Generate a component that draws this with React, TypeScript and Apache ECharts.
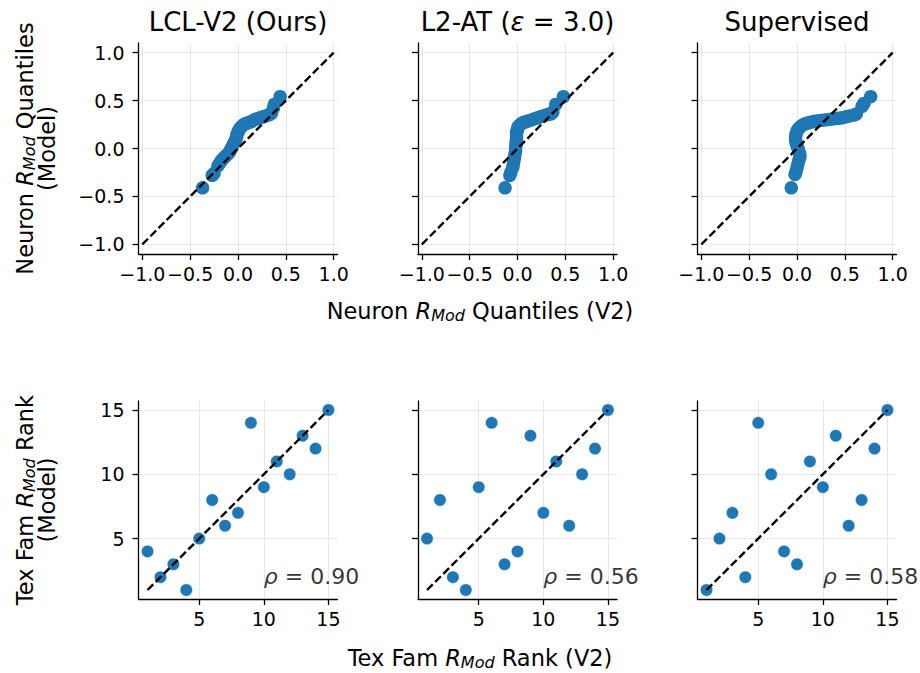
import React, { useEffect, useRef } from "react";
import * as echarts from "echarts";

// ---------- data ----------
const quantileTicks = [-1, -0.5, 0, 0.5, 1];
const rankTicks = [5, 10, 15];
const identityQuantile = [-1, 1];
const identityRank = [1, 15];

// top row: neuron R_Mod quantiles (V2 on x, model on y)
const lclV2Quantiles = [-0.37, -0.27, -0.25, -0.21, -0.19, -0.17, -0.15, -0.13, -0.11, -0.09, -0.08, -0.07, -0.06, -0.05, -0.04, -0.03, -0.02, -0.015, -0.01, 0.0, 0.01, 0.02, 0.04, 0.06, 0.08, 0.11, 0.14, 0.17, 0.2, 0.23, 0.26, 0.29, 0.32, 0.34, 0.35, 0.37, 0.38, 0.44];
const lclModelQuantiles = [-0.41, -0.28, -0.26, -0.18, -0.15, -0.12, -0.1, -0.08, -0.06, -0.04, -0.02, 0.0, 0.02, 0.04, 0.06, 0.08, 0.1, 0.12, 0.15, 0.17, 0.19, 0.21, 0.23, 0.25, 0.26, 0.27, 0.28, 0.3, 0.31, 0.32, 0.33, 0.34, 0.35, 0.36, 0.37, 0.42, 0.46, 0.54];

const l2atV2Quantiles = [-0.13, -0.08, -0.07, -0.05, -0.045, -0.04, -0.035, -0.03, -0.025, -0.02, -0.02, -0.015, -0.015, -0.01, -0.01, -0.01, -0.005, 0.0, 0.005, 0.01, 0.02, 0.04, 0.06, 0.09, 0.12, 0.15, 0.18, 0.21, 0.24, 0.27, 0.3, 0.33, 0.35, 0.37, 0.4, 0.48];
const l2atModelQuantiles = [-0.41, -0.28, -0.25, -0.2, -0.17, -0.14, -0.11, -0.08, -0.05, -0.02, 0.01, 0.04, 0.07, 0.1, 0.13, 0.16, 0.18, 0.2, 0.22, 0.23, 0.24, 0.26, 0.27, 0.28, 0.29, 0.3, 0.31, 0.32, 0.33, 0.34, 0.35, 0.36, 0.36, 0.38, 0.46, 0.54];

const supV2Quantiles = [-0.06, -0.02, -0.01, 0.0, 0.01, 0.02, 0.03, 0.03, 0.02, 0.01, 0.0, -0.01, -0.015, -0.015, -0.01, 0.0, 0.01, 0.03, 0.05, 0.08, 0.11, 0.15, 0.19, 0.23, 0.27, 0.31, 0.35, 0.39, 0.43, 0.47, 0.51, 0.55, 0.6, 0.62, 0.68, 0.7, 0.77];
const supModelQuantiles = [-0.41, -0.27, -0.24, -0.2, -0.16, -0.12, -0.09, -0.06, -0.03, 0.0, 0.03, 0.06, 0.09, 0.12, 0.15, 0.18, 0.2, 0.22, 0.24, 0.255, 0.265, 0.275, 0.285, 0.29, 0.295, 0.3, 0.305, 0.31, 0.315, 0.32, 0.33, 0.34, 0.35, 0.36, 0.44, 0.47, 0.54];

// bottom row: texture family R_Mod rank
const v2Rank = [1, 2, 3, 4, 5, 6, 7, 8, 9, 10, 11, 12, 13, 14, 15];
const lclRank = [4, 2, 3, 1, 5, 8, 6, 7, 14, 9, 11, 10, 13, 12, 15];
const l2atRank = [5, 8, 2, 1, 9, 14, 3, 4, 13, 7, 11, 6, 10, 12, 15];
const supRank = [1, 5, 7, 2, 14, 10, 4, 3, 11, 9, 13, 6, 8, 12, 15];
const rhoValues = ["0.90", "0.56", "0.58"];

// ---------- layout / style ----------
const FONT = "DejaVu Sans";
const BLUE = "#1f77b4";
const GRID_LEFTS = [138.5, 418, 697.5];
const GRID_W = 199;
const TOP_ROW = { top: 43, height: 211 };
const BOT_ROW = { top: 401, height: 198 };
const RHO_ANCHOR = [10, 2.08];
const DASH = [8, 3.5];

const zip = (a: number[], b: number[]) => a.map((v, i) => [v, b[i]]);
const fmtQ = (v: number) => {
  const s = Math.abs(v) < 1e-9 ? "0.0" : v.toFixed(1);
  return s.replace("-", "\u2212");
};

function makeAxis(gridIndex: number, min: number, max: number, ticks: number[], showLabel: boolean, isX: boolean, fmt: (v: number) => string) {
  return {
    type: "value",
    gridIndex,
    min,
    max,
    axisLine: { show: true, onZero: false, lineStyle: { color: "#000", width: 1.3 } },
    axisTick: { show: true, inside: false, length: 6, lineStyle: { color: "#000", width: 1.3 }, customValues: ticks },
    axisLabel: {
      show: showLabel,
      customValues: ticks,
      formatter: fmt,
      fontSize: 19,
      fontFamily: FONT,
      color: "#000",
      margin: isX ? 10 : 14,
    },
    splitLine: { show: true, lineStyle: { color: "#e6e6e6", width: 1 } },
  };
}

export default function App() {
  const ref = useRef<HTMLDivElement>(null);
  useEffect(() => {
    document.body.style.margin = "0";
    if (!ref.current) return;
    const chart = echarts.init(ref.current, undefined, { renderer: "svg" });

    const qqX = [lclV2Quantiles, l2atV2Quantiles, supV2Quantiles];
    const qqY = [lclModelQuantiles, l2atModelQuantiles, supModelQuantiles];
    const ranks = [lclRank, l2atRank, supRank];

    const grids: any[] = [];
    const xAxes: any[] = [];
    const yAxes: any[] = [];
    const series: any[] = [];

    for (let c = 0; c < 3; c++) {
      grids.push({ left: GRID_LEFTS[c], width: GRID_W, top: TOP_ROW.top, height: TOP_ROW.height });
      xAxes.push(makeAxis(c, -1.04, 1.04, quantileTicks, true, true, fmtQ));
      yAxes.push(makeAxis(c, -1.1, 1.1, quantileTicks, c === 0, false, fmtQ));
    }
    for (let c = 0; c < 3; c++) {
      grids.push({ left: GRID_LEFTS[c], width: GRID_W, top: BOT_ROW.top, height: BOT_ROW.height });
      xAxes.push(makeAxis(3 + c, 0.3, 15.7, rankTicks, true, true, (v) => String(v)));
      yAxes.push(makeAxis(3 + c, 0.3, 15.7, rankTicks, c === 0, false, (v) => String(v)));
    }

    for (let c = 0; c < 3; c++) {
      series.push({
        type: "scatter",
        xAxisIndex: c,
        yAxisIndex: c,
        data: zip(qqX[c], qqY[c]),
        symbolSize: 13.5,
        itemStyle: { color: BLUE, opacity: 1 },
        z: 2,
      });
      series.push({
        type: "line",
        xAxisIndex: c,
        yAxisIndex: c,
        data: zip(identityQuantile, identityQuantile),
        symbol: "none",
        lineStyle: { color: "#000", width: 2.4, type: DASH },
        z: 3,
      });
      series.push({
        type: "scatter",
        xAxisIndex: 3 + c,
        yAxisIndex: 3 + c,
        data: zip(v2Rank, ranks[c]),
        symbolSize: 12.5,
        itemStyle: { color: BLUE, opacity: 1, borderColor: "#fff", borderWidth: 0.6 },
        z: 2,
      });
      series.push({
        type: "line",
        xAxisIndex: 3 + c,
        yAxisIndex: 3 + c,
        data: zip(identityRank, identityRank),
        symbol: "none",
        lineStyle: { color: "#000", width: 2.4, type: DASH },
        z: 3,
      });
      series.push({
        type: "scatter",
        xAxisIndex: 3 + c,
        yAxisIndex: 3 + c,
        data: [RHO_ANCHOR],
        symbolSize: 0,
        silent: true,
        z: 4,
        label: {
          show: true,
          position: "right",
          distance: 0,
          formatter: `{i|\u03c1}{n| = ${rhoValues[c]}}`,
          rich: {
            i: { fontSize: 22, fontFamily: FONT, fontStyle: "italic", color: "#000" },
            n: { fontSize: 22, fontFamily: FONT, color: "#000" },
          },
        },
      });
    }

    const txt = (size: number) => ({ fontSize: size, fontFamily: FONT, fill: "#000" });
    const richLabel = {
      n: txt(22.5),
      i: { ...txt(22.5), fontStyle: "italic" },
      s: { ...txt(16), fontStyle: "italic", padding: [8, 0, 0, 0] },
    };
    const richTitle = {
      n: txt(26),
      i: { ...txt(26), fontStyle: "italic" },
    };
    const center = (c: number) => GRID_LEFTS[c] + GRID_W / 2;
    const topMid = TOP_ROW.top + TOP_ROW.height / 2;
    const botMid = BOT_ROW.top + BOT_ROW.height / 2;

    const textEl = (x: number, y: number, text: string, rich: any, rotation = 0) => ({
      type: "text",
      x,
      y,
      rotation,
      style: { text, rich, align: "center", verticalAlign: "middle", ...txt(22) },
    });

    const graphic = [
      textEl(center(0), 22, "{n|LCL-V2 (Ours)}", richTitle),
      textEl(center(1), 22, "{n|L2-AT (}{i|\u03b5}{n| = 3.0)}", richTitle),
      textEl(center(2), 22, "{n|Supervised}", richTitle),
      textEl(480, 311, "{n|Neuron }{i|R}{s|Mod}{n| Quantiles (V2)}", richLabel),
      textEl(480, 658, "{n|Tex Fam }{i|R}{s|Mod}{n| Rank (V2)}", richLabel),
      textEl(25, topMid, "{n|Neuron }{i|R}{s|Mod}{n| Quantiles}", richLabel, Math.PI / 2),
      textEl(47, topMid, "{n|(Model)}", richLabel, Math.PI / 2),
      textEl(25, botMid, "{n|Tex Fam }{i|R}{s|Mod}{n| Rank}", richLabel, Math.PI / 2),
      textEl(47, botMid, "{n|(Model)}", richLabel, Math.PI / 2),
    ];

    chart.setOption({
      animation: false,
      backgroundColor: "#fff",
      grid: grids,
      xAxis: xAxes,
      yAxis: yAxes,
      series,
      graphic,
    });
    return () => chart.dispose();
  }, []);
  return <div ref={ref} style={{ width: 920, height: 673 }} />;
}
